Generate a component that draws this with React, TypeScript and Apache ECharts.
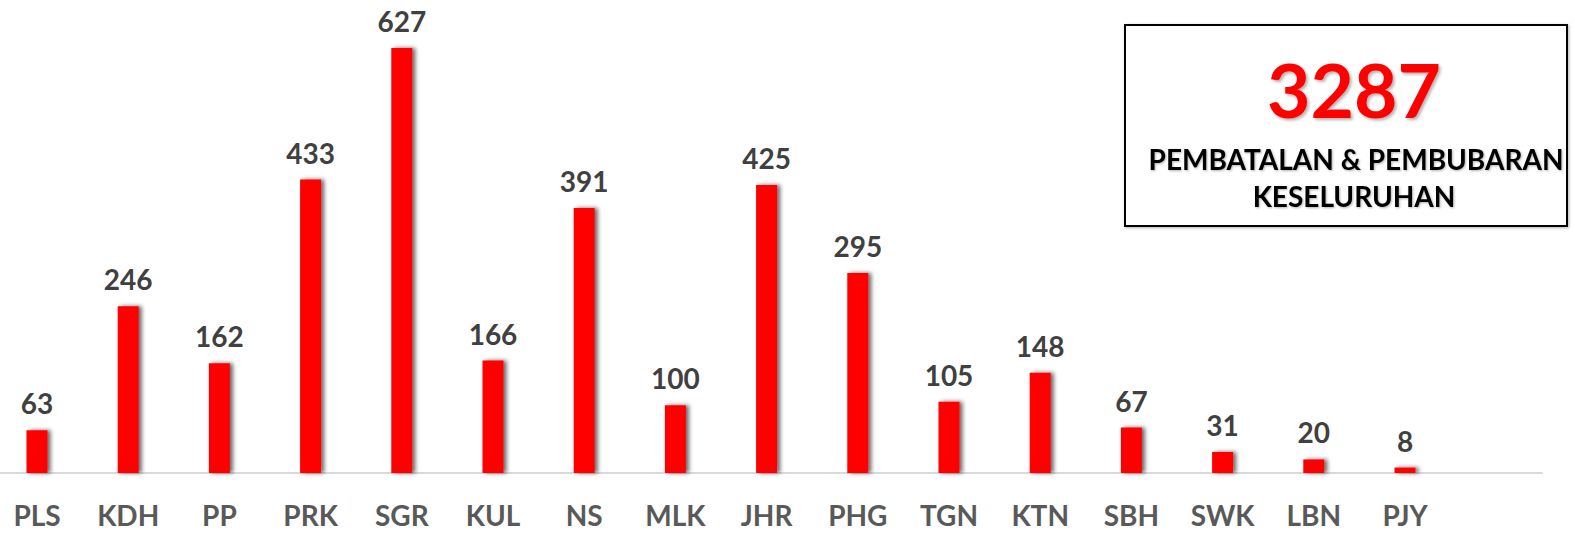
import React, { useEffect, useRef } from "react";
import * as echarts from "echarts";

const categories = ["PLS", "KDH", "PP", "PRK", "SGR", "KUL", "NS", "MLK", "JHR", "PHG", "TGN", "KTN", "SBH", "SWK", "LBN", "PJY"];
const values = [63, 246, 162, 433, 627, 166, 391, 100, 425, 295, 105, 148, 67, 31, 20, 8];
const totalText = "3287";
const boxLine1 = "PEMBATALAN & PEMBUBARAN";
const boxLine2 = "KESELURUHAN";

const FONT = "Lato, 'Open Sans', sans-serif";
const SHIFT = 10;

export default function App() {
  const ref = useRef<HTMLDivElement>(null);
  useEffect(() => {
    if (!ref.current) return;
    const chart = echarts.init(ref.current, undefined, { renderer: "svg" });
    const cats = [...categories, ""];
    const vals: (number | null)[] = [...values, null];
    chart.setOption({
      animation: false,
      backgroundColor: "#ffffff",
      grid: { left: SHIFT - 8.6, right: 33.2, top: 0, bottom: 61, containLabel: false },
      xAxis: {
        type: "category",
        data: cats,
        boundaryGap: true,
        axisLine: { show: true, lineStyle: { color: "#d9d9d9", width: 2 } },
        axisTick: { show: false },
        axisLabel: {
          interval: 0,
          margin: 28,
          color: "#595959",
          fontSize: 28,
          fontWeight: "bold",
          fontFamily: FONT,
        },
      },
      yAxis: {
        type: "value",
        min: 0,
        max: 698,
        show: false,
        splitLine: { show: false },
      },
      series: [
        {
          type: "bar",
          data: vals,
          barWidth: 21,
          itemStyle: {
            color: "#ff0000",
            shadowColor: "rgba(0,0,0,0.6)",
            shadowBlur: 4,
            shadowOffsetX: 3,
            shadowOffsetY: 0,
          },
          label: {
            show: true,
            position: "top",
            distance: 13,
            color: "#404040",
            fontSize: 28,
            fontWeight: "bold",
            fontFamily: FONT,
          },
        },
      ],
      graphic: [
        {
          type: "rect",
          shape: { x: SHIFT + 1125, y: 25, width: 442, height: 201 },
          style: { fill: "#ffffff", stroke: "#000000", lineWidth: 2, shadowColor: "rgba(0,0,0,0.3)", shadowBlur: 3, shadowOffsetX: 1, shadowOffsetY: 1 },
          z: 10,
        },
        {
          type: "text",
          x: SHIFT + 1354,
          y: 89,
          style: {
            text: totalText,
            fill: "#ff0000",
            fontSize: 75,
            fontWeight: "bold",
            fontFamily: FONT,
            align: "center",
            verticalAlign: "middle",
            textShadowColor: "rgba(0,0,0,0.3)",
            textShadowBlur: 3,
            textShadowOffsetX: 2,
            textShadowOffsetY: 2,
          },
          z: 11,
        },
        {
          type: "text",
          x: SHIFT + 1356,
          y: 159,
          style: {
            text: boxLine1,
            fill: "#000000",
            fontSize: 28,
            fontWeight: "bold",
            fontFamily: FONT,
            align: "center",
            verticalAlign: "middle",
            textShadowColor: "rgba(0,0,0,0.3)",
            textShadowBlur: 2,
            textShadowOffsetX: 1,
            textShadowOffsetY: 1,
          },
          z: 11,
        },
        {
          type: "text",
          x: SHIFT + 1354,
          y: 196,
          style: {
            text: boxLine2,
            fill: "#000000",
            fontSize: 28,
            fontWeight: "bold",
            fontFamily: FONT,
            align: "center",
            verticalAlign: "middle",
            textShadowColor: "rgba(0,0,0,0.3)",
            textShadowBlur: 2,
            textShadowOffsetX: 1,
            textShadowOffsetY: 1,
          },
          z: 11,
        },
      ],
    });
    return () => chart.dispose();
  }, []);
  return (
    <div
      ref={ref}
      style={{ position: "absolute", left: -SHIFT, top: 0, width: 1575 + SHIFT, height: 534 }}
    />
  );
}
